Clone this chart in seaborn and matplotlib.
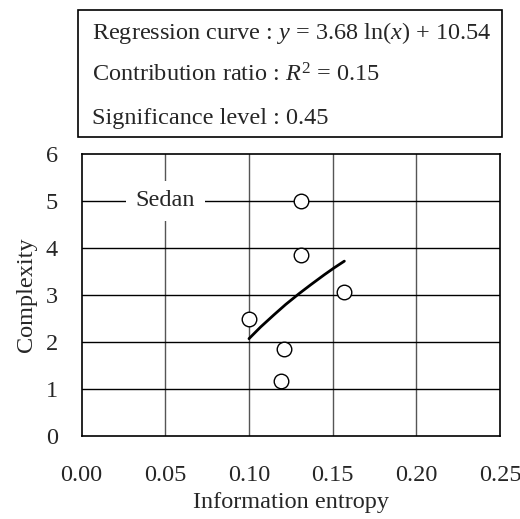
import matplotlib
matplotlib.use("Agg")
import matplotlib.pyplot as plt
import seaborn as sns
import pandas as pd
from matplotlib.patches import Rectangle

# ---- data ----
entropy = [0.131, 0.131, 0.157, 0.100, 0.121, 0.119]
complexity = [5.00, 3.85, 3.07, 2.48, 1.85, 1.16]

curve_x = [0.100, 0.107, 0.115, 0.122, 0.130, 0.137, 0.145, 0.151, 0.157]
curve_y = [2.07, 2.32, 2.58, 2.80, 3.03, 3.22, 3.43, 3.58, 3.72]

x_ticks = [0.00, 0.05, 0.10, 0.15, 0.20, 0.25]
y_ticks = [0, 1, 2, 3, 4, 5, 6]

label_text = "Sedan"
box_lines = [
    r"Regression curve : $y$ = 3.68 ln($x$) + 10.54",
    r"Contribution ratio : $R^2$ = 0.15",
    r"Significance level : 0.45",
]

sns.set_theme(style="white")
plt.rcParams["font.family"] = ["Liberation Serif", "DejaVu Serif"]
plt.rcParams["mathtext.fontset"] = "custom"
plt.rcParams["mathtext.rm"] = "Liberation Serif"
plt.rcParams["mathtext.it"] = "Liberation Serif:italic"

FS = 17.5
fig = plt.figure(figsize=(5.2, 5.19), dpi=100)
ax = fig.add_axes([0.157, 0.160, 0.8045, 0.5433])

pts = pd.DataFrame({"x": entropy, "y": complexity})
crv = pd.DataFrame({"x": curve_x, "y": curve_y})

ax.set_xlim(0, 0.25)
ax.set_ylim(0, 6)
ax.set_xticks(x_ticks)
ax.set_yticks(y_ticks)
ax.set_xticklabels([f"{v:.2f}" for v in x_ticks], fontsize=FS)
ax.set_yticklabels([str(v) for v in y_ticks], fontsize=FS)
ax.tick_params(axis="x", length=0, pad=21)
ax.tick_params(axis="y", length=0, pad=17)

for v in x_ticks[1:-1]:
    ax.axvline(v, color="#555555", lw=1.0, zorder=1)
for v in y_ticks[1:-1]:
    ax.axhline(v, color="black", lw=1.0, zorder=1)

sns.lineplot(data=crv, x="x", y="y", ax=ax, color="black", lw=2.0, zorder=3)
sns.scatterplot(data=pts, x="x", y="y", ax=ax, s=110, facecolor="white",
                edgecolor="black", linewidth=1.0, zorder=4)

ax.text(0.05, 5, label_text, fontsize=FS, ha="center", va="center", zorder=5,
        bbox=dict(facecolor="white", edgecolor="none", pad=7))

for s in ax.spines.values():
    s.set_color("black")
    s.set_linewidth(1.2)

ax.set_xlabel("Information entropy", fontsize=FS, labelpad=4)
ax.set_ylabel("Complexity", fontsize=FS, labelpad=6)

fig.patches.append(Rectangle((0.150, 0.736), 0.815, 0.2447, transform=fig.transFigure,
                             fill=False, edgecolor="black", lw=1.2))
baselines_px = [39.5, 82, 123.5]
for t, yy in zip(box_lines, baselines_px):
    fig.text(0.176, 1 - yy / 519, t, fontsize=FS, ha="left", va="baseline")

fig.savefig("out.png", dpi=100)
